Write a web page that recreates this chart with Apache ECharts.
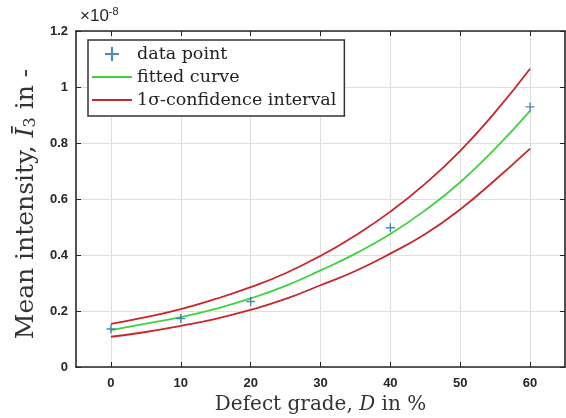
<!DOCTYPE html>
<html>
<head>
<meta charset="utf-8">
<script src="https://cdn.jsdelivr.net/npm/echarts@6/dist/echarts.min.js"></script>
<style>
html,body{margin:0;padding:0;background:#fff;}
#chart{width:566px;height:418px;}
</style>
</head>
<body>
<div id="chart"></div>
<script>
// Defect grade D (%) sample positions for curves
const curveD = [0, 5, 10, 15, 20, 25, 30, 35, 40, 45, 50, 55, 60];
// Values in units of 1e-8
const fittedCurve = [0.132, 0.155, 0.178, 0.208, 0.245, 0.290, 0.345, 0.405, 0.475, 0.560, 0.660, 0.780, 0.915];
const upperBound  = [0.154, 0.178, 0.207, 0.243, 0.285, 0.335, 0.397, 0.470, 0.555, 0.655, 0.772, 0.910, 1.065];
const lowerBound  = [0.108, 0.125, 0.147, 0.172, 0.204, 0.243, 0.292, 0.343, 0.405, 0.475, 0.563, 0.668, 0.780];
// Measured data points
const pointD = [0, 10, 20, 40, 60];
const pointI = [0.136, 0.173, 0.234, 0.497, 0.929];
// Axis ticks
const xTicks = [0, 10, 20, 30, 40, 50, 60];
const yTicks = [0, 0.2, 0.4, 0.6, 0.8, 1, 1.2];

const pair = (xs, ys) => xs.map((x, i) => [x, ys[i]]);

const axisColor = '#262626';
const gridColor = '#dedede';
const redColor = '#c8262b';
const greenColor = '#3fd23f';
const blueColor = '#1f6fa3';
const plusPath = 'path://M-1.6,-10H1.6V-1.6H10V1.6H1.6V10H-1.6V1.6H-10V-1.6H-1.6Z';
const lineIcon = 'path://M0,0H40V1.8H0Z';

const chart = echarts.init(document.getElementById('chart'), null, {renderer: 'canvas'});

const baseX = {
  type: 'value', min: -5, max: 65,
  axisLine: {show: true, onZero: false, lineStyle: {color: axisColor, width: 1.6}},
  axisTick: {show: true, inside: true, length: 5, customValues: xTicks, lineStyle: {color: axisColor, width: 1}},
  axisLabel: {show: false},
  splitLine: {show: false}
};
const baseY = {
  type: 'value', min: 0, max: 1.2, interval: 0.2,
  axisLine: {show: true, onZero: false, lineStyle: {color: axisColor, width: 1.6}},
  axisTick: {show: true, inside: true, length: 5, lineStyle: {color: axisColor, width: 1}},
  axisLabel: {show: false},
  splitLine: {show: false}
};

chart.setOption({
  animation: false,
  backgroundColor: '#fff',
  grid: {left: 76, right: 1, top: 31, bottom: 51, containLabel: false, outerBoundsMode: 'none'},
  xAxis: [
    Object.assign({}, baseX, {
      position: 'bottom',
      axisLabel: {show: true, customValues: xTicks, color: axisColor, fontFamily: 'Liberation Sans', fontWeight: 'bold', fontSize: 13, margin: 10},
      splitLine: {show: true, lineStyle: {color: gridColor, width: 1}},
      name: '{n|Defect grade, }{it|D}{n| in %}',
      nameLocation: 'middle', nameGap: 27,
      nameTextStyle: {
        rich: {
          n: {fontFamily: 'DejaVu Serif', fontSize: 20, color: '#333'},
          it: {fontFamily: 'DejaVu Serif', fontStyle: 'italic', fontSize: 20, color: '#333'}
        }
      }
    }),
    Object.assign({}, baseX, {position: 'top'})
  ],
  yAxis: [
    Object.assign({}, baseY, {
      position: 'left',
      axisLabel: {show: true, color: axisColor, fontFamily: 'Liberation Sans', fontWeight: 'bold', fontSize: 13, margin: 8,
        formatter: v => String(Math.round(v * 10) / 10)},
      splitLine: {show: true, lineStyle: {color: gridColor, width: 1}},
      name: '{n|Mean intensity, }{it|Ī}{sub|3}{n| in -}',
      nameLocation: 'middle', nameGap: 34,
      nameTextStyle: {
        padding: [0, 10, 0, 0],
        rich: {
          n: {fontFamily: 'DejaVu Serif', fontSize: 25, color: '#333'},
          it: {fontFamily: 'DejaVu Serif', fontStyle: 'italic', fontSize: 25, color: '#333'},
          sub: {fontFamily: 'DejaVu Serif', fontSize: 16, color: '#333', verticalAlign: 'bottom', padding: [10, 0, 0, 0]}
        }
      }
    }),
    Object.assign({}, baseY, {position: 'right'})
  ],
  legend: {
    left: 88, top: 40, orient: 'vertical',
    backgroundColor: '#fff', borderColor: '#333', borderWidth: 1.5, borderRadius: 0,
    padding: [5, 8, 7, 4],
    itemWidth: 40, itemHeight: 14, itemGap: 5,
    textStyle: {fontFamily: 'DejaVu Serif', fontSize: 17.5, color: '#222'},
    data: [
      {name: 'data point'},
      {name: 'fitted curve', icon: lineIcon, itemStyle: {color: greenColor}},
      {name: '1σ-confidence interval', icon: lineIcon, itemStyle: {color: redColor}}
    ]
  },
  graphic: [{
    type: 'text', left: 80, top: 6,
    style: {
      text: '{a|×10}{b|-8}',
      rich: {
        a: {fontFamily: 'Liberation Sans', fontSize: 17, fill: axisColor, verticalAlign: 'bottom'},
        b: {fontFamily: 'Liberation Sans', fontSize: 11, fill: axisColor, verticalAlign: 'top', padding: [0, 0, 8, 0]}
      }
    }
  }],
  series: [
    {
      name: '1σ-confidence interval', type: 'line', smooth: true, symbol: 'none',
      data: pair(curveD, upperBound), lineStyle: {color: redColor, width: 1.8}, itemStyle: {color: redColor}, z: 3
    },
    {
      name: '1σ-confidence interval', type: 'line', smooth: true, symbol: 'none',
      data: pair(curveD, lowerBound), lineStyle: {color: redColor, width: 1.8}, itemStyle: {color: redColor}, z: 3
    },
    {
      name: 'fitted curve', type: 'line', smooth: true, symbol: 'none',
      data: pair(curveD, fittedCurve), lineStyle: {color: greenColor, width: 1.8}, itemStyle: {color: greenColor}, z: 4
    },
    {
      name: 'data point', type: 'scatter', symbol: plusPath, symbolSize: 9,
      data: pair(pointD, pointI), itemStyle: {color: blueColor}, z: 5
    }
  ]
});
</script>
</body>
</html>
